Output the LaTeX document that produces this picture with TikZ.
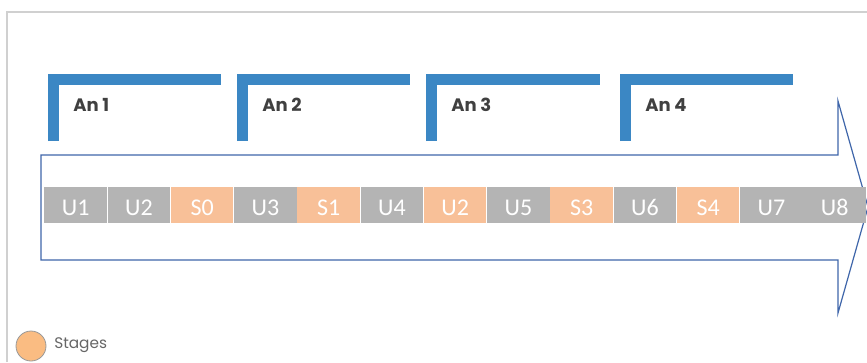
\documentclass[tikz,border=0pt]{standalone}
\usepackage{fontspec}
\setmainfont{Poppins}
\newfontfamily\cellfont{Carlito}
\usepackage{tikz}
\usetikzlibrary{calc}
\definecolor{bracketblue}{HTML}{3B87C4}
\definecolor{arrowblue}{HTML}{3F66AA}
\definecolor{unitgray}{HTML}{B4B4B4}
\definecolor{stagepeach}{HTML}{F8C098}
\definecolor{legendpeach}{HTML}{FABC82}
\definecolor{framegray}{HTML}{D0D0D0}
\definecolor{labelgray}{HTML}{404040}
\tikzset{ucell/.style = {shape=rectangle,fill=unitgray,text=white,minimum width=47pt,minimum height=27pt,inner sep=0pt,text height=16pt,text depth=0pt,font=\cellfont\fontsize{18}{20}\selectfont}}
\tikzset{scell/.style = {ucell,fill=stagepeach}}
\tikzset{yearlabel/.style = {anchor=west,text=labelgray,inner sep=0pt,font=\bfseries\fontsize{13.5}{15}\selectfont}}
\tikzset{bracket/.style = {draw=bracketblue,line width=8.4pt,line join=miter}}

\begin{document}
\begin{tikzpicture}[x=0.75pt,y=-0.75pt]
                \useasboundingbox (0,0) rectangle (867,362);
                \draw[framegray,line width=1.1pt] (7,362) |- (867,12);

                % arrow
                \draw[arrowblue,line width=0.9pt,fill=white] (41,155) -- (838,155) -- (838,101) -- (868,207)
                    -- (838,313) -- (838,260) -- (41,260) -- cycle;

                % brackets with the years
                \foreach \x/\w/\lab [count=\i] in {48/173/An 1,237/173/An 2,426/174/An 3,620/173/An 4} {
                    \draw[bracket] (\x+5.6,141) |- (\x+\w,79.6);
                    \node[yearlabel] (an\i) at (\x+25,105) {\lab};
                }

                % the sequence
                \foreach \lab/\kind [count=\i] in {U1/ucell,U2/ucell,S0/scell,U3/ucell,S1/scell,U4/ucell,U2/scell,
                    U5/ucell,S3/scell,U6/ucell,S4/scell,U7/ucell,U8/ucell} {
                    \node[\kind] (c\i) at ({44+(\i-0.5)*63.25},205) {\lab};
                }

                % legend
                \node[circle,draw=gray!80,fill=legendpeach,line width=0.6pt,minimum size=22.5pt,inner sep=0pt] (dot) at (31,346) {};
                \node[anchor=west,text=gray!120,inner sep=0pt,font=\fontsize{11.5}{13}\selectfont] (stages) at (54,345) {Stages};
            \end{tikzpicture}
\end{document}
